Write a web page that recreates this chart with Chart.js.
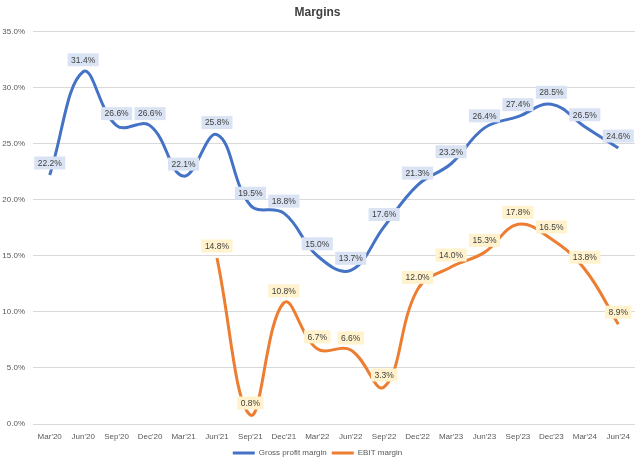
<!DOCTYPE html>
<html>
<head>
<meta charset="utf-8">
<script src="https://cdn.jsdelivr.net/npm/chart.js@4"></script>
<style>
  html, body { margin: 0; padding: 0; background: #fff; }
  #wrap { width: 640px; height: 464px; }
</style>
</head>
<body>
<div id="wrap"><canvas id="marginChart"></canvas></div>
<script>
const quarters = ["Mar'20", "Jun'20", "Sep'20", "Dec'20", "Mar'21", "Jun'21", "Sep'21", "Dec'21", "Mar'22",
  "Jun'22", "Sep'22", "Dec'22", "Mar'23", "Jun'23", "Sep'23", "Dec'23", "Mar'24", "Jun'24"];
const grossMargin = [22.2, 31.4, 26.6, 26.6, 22.1, 25.8, 19.5, 18.8, 15.0, 13.7, 17.6, 21.3, 23.2, 26.4, 27.4, 28.5, 26.5, 24.6];
const ebitMargin = [null, null, null, null, null, 14.8, 0.8, 10.8, 6.7, 6.6, 3.3, 12.0, 14.0, 15.3, 17.8, 16.5, 13.8, 8.9];
const yTicks = [0, 5, 10, 15, 20, 25, 30, 35];

const fontFamily = "'Liberation Sans', Arial, sans-serif";
const labelBg = ['#dae3f3', '#fff2cc'];

// little boxes with the value above each point
const valueLabels = {
  id: 'valueLabels',
  afterDatasetsDraw(chart) {
    const ctx = chart.ctx;
    ctx.save();
    ctx.font = '8.5px ' + fontFamily;
    ctx.textAlign = 'center';
    ctx.textBaseline = 'middle';
    chart.data.datasets.forEach((ds, i) => {
      const meta = chart.getDatasetMeta(i);
      meta.data.forEach((pt, j) => {
        const v = ds.data[j];
        if (v === null) return;
        const txt = v.toFixed(1) + '%';
        const w = ctx.measureText(txt).width + 7;
        const h = 13;
        const x = pt.x;
        const y = pt.y - 12;
        ctx.fillStyle = labelBg[i];
        ctx.fillRect(x - w / 2, y - h / 2, w, h);
        ctx.fillStyle = '#404040';
        ctx.fillText(txt, x, y + 0.5);
      });
    });
    ctx.restore();
  }
};

new Chart(document.getElementById('marginChart'), {
  type: 'line',
  data: {
    labels: quarters,
    datasets: [{
      label: 'Gross profit margin',
      data: grossMargin,
      borderColor: '#4472c4',
      backgroundColor: '#4472c4',
      borderWidth: 3,
      pointRadius: 0,
      tension: 0.4
    }, {
      label: 'EBIT margin',
      data: ebitMargin,
      borderColor: '#ed7d31',
      backgroundColor: '#ed7d31',
      borderWidth: 3,
      pointRadius: 0,
      tension: 0.4
    }]
  },
  options: {
    responsive: true,
    maintainAspectRatio: false,
    animation: false,
    layout: { padding: { left: 0, right: 5, top: 0, bottom: -3 } },
    plugins: {
      title: {
        display: true,
        text: 'Margins',
        color: '#404040',
        font: { family: fontFamily, size: 12, weight: 'bold' },
        padding: { top: 5, bottom: 12 }
      },
      legend: {
        position: 'bottom',
        labels: {
          color: '#595959',
          font: { family: fontFamily, size: 8 },
          usePointStyle: true,
          pointStyle: 'line',
          pointStyleWidth: 22,
          boxHeight: 9,
          padding: 5
        }
      },
      tooltip: { enabled: false }
    },
    scales: {
      x: {
        offset: true,
        grid: { display: false, drawTicks: false },
        border: { display: false },
        ticks: {
          color: '#595959',
          font: { family: fontFamily, size: 8 },
          padding: 8,
          maxRotation: 0,
          autoSkip: false
        },
        afterFit(scale) { scale.height = 20; }
      },
      y: {
        min: 0,
        max: 35,
        afterBuildTicks(scale) { scale.ticks = yTicks.map(v => ({ value: v })); },
        grid: { color: '#d9d9d9', drawTicks: false },
        border: { display: false },
        ticks: {
          color: '#595959',
          font: { family: fontFamily, size: 8 },
          padding: 8,
          callback: v => v.toFixed(1) + '%'
        },
        afterFit(scale) { scale.width = 33; }
      }
    }
  },
  plugins: [valueLabels]
});
</script>
</body>
</html>
